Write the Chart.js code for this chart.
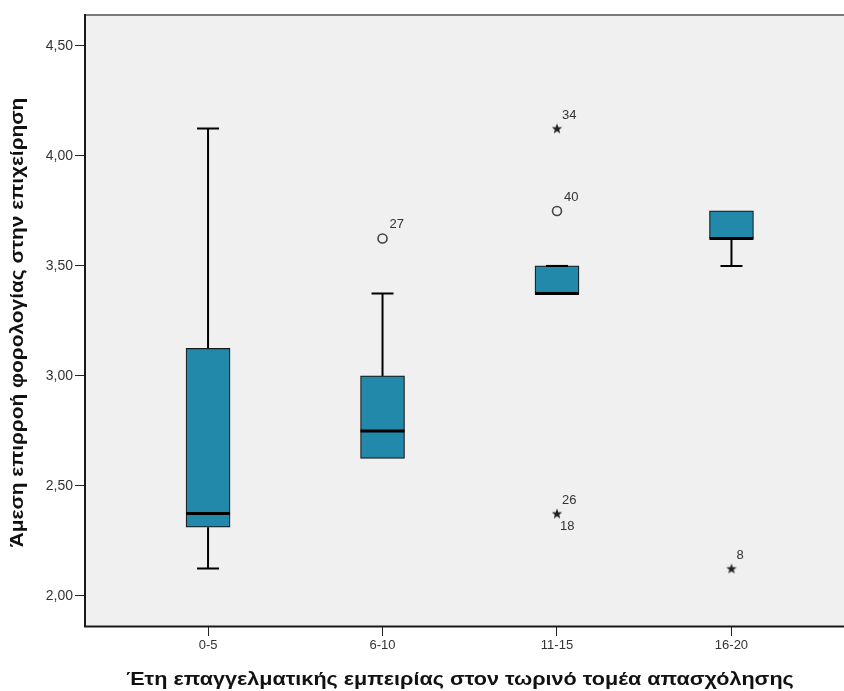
<!DOCTYPE html>
<html>
<head>
<meta charset="utf-8">
<script src="https://cdn.jsdelivr.net/npm/chart.js@4.4.1/dist/chart.umd.min.js"></script>
<style>
html,body{margin:0;padding:0;background:#fff;}
#wrap{width:844px;height:691px;position:relative;}
</style>
</head>
<body>
<div id="wrap"><canvas id="c" width="844" height="691"></canvas></div>
<script>
// ---- data ----
const categories = ['0-5', '6-10', '11-15', '16-20'];
const whiskerLow  = [2.125, 2.625, 3.375, 3.500];
const q1          = [2.3125, 2.625, 3.375, 3.625];
const median      = [2.375, 2.750, 3.375, 3.625];
const q3          = [3.125, 3.000, 3.500, 3.750];
const whiskerHigh = [4.125, 3.375, 3.500, 3.750];
// outliers (circles) and extremes (stars): category index, value, case label
const outlierCat   = [2, 3];
const outlierVal   = [3.625, 3.750];
const outlierLabel = ['27', '40'];
const extremeCat   = [3, 3, 4];
const extremeVal   = [4.125, 2.375, 2.125];
const extremeLabel = [['34'], ['26', '18'], ['8']];
const yTicks = [2.0, 2.5, 3.0, 3.5, 4.0, 4.5];
const xTitle = 'Έτη επαγγελματικής εμπειρίας στον τωρινό τομέα απασχόλησης';
const yTitle = 'Άμεση επιρροή φορολογίας στην επιχείρηση';

// star point image
function makeStar(){
  const s = 12, c = document.createElement('canvas');
  c.width = s; c.height = s;
  const g = c.getContext('2d');
  g.fillStyle = '#222';
  g.beginPath();
  const cx = s/2, cy = s/2 + 0.5, R = 5.5, r = 2.3;
  for (let i = 0; i < 10; i++){
    const a = -Math.PI/2 + i*Math.PI/5;
    const rr = i % 2 ? r : R;
    g.lineTo(cx + rr*Math.cos(a), cy + rr*Math.sin(a));
  }
  g.closePath(); g.fill();
  return c;
}
const starImg = makeStar();
const FONT = '"Liberation Sans", Arial, sans-serif';

const boxPlugin = {
  id: 'boxPlugin',
  beforeDraw(chart){
    const {ctx, chartArea:a} = chart;
    ctx.save();
    ctx.fillStyle = '#f0f0f0';
    ctx.fillRect(a.left, a.top, a.right - a.left, a.bottom - a.top);
    ctx.restore();
  },
  beforeDatasetsDraw(chart){
    const {ctx, scales:{x, y}} = chart;
    ctx.save();
    ctx.strokeStyle = '#000';
    ctx.lineWidth = 2;
    categories.forEach((c, i) => {
      const px = x.getPixelForValue(i + 1);
      const cap = 11;
      const yl = y.getPixelForValue(whiskerLow[i]), y1 = y.getPixelForValue(q1[i]);
      const yh = y.getPixelForValue(whiskerHigh[i]), y3 = y.getPixelForValue(q3[i]);
      ctx.beginPath();
      if (whiskerLow[i] < q1[i]) {
        ctx.moveTo(px, y1); ctx.lineTo(px, yl);
        ctx.moveTo(px - cap, yl); ctx.lineTo(px + cap, yl);
      }
      if (whiskerHigh[i] > q3[i]) {
        ctx.moveTo(px, y3); ctx.lineTo(px, yh);
        ctx.moveTo(px - cap, yh); ctx.lineTo(px + cap, yh);
      }
      ctx.stroke();
    });
    ctx.restore();
  },
  afterDatasetsDraw(chart){
    const {ctx, scales:{x, y}, chartArea:a} = chart;
    ctx.save();
    categories.forEach((c, i) => {
      const px = x.getPixelForValue(i + 1);
      const hw = 22, cap = 11;
      const ym = y.getPixelForValue(median[i]);
      ctx.strokeStyle = '#000';
      ctx.lineWidth = 3;
      ctx.beginPath();
      ctx.moveTo(px - hw, ym); ctx.lineTo(px + hw, ym);
      ctx.stroke();
      ctx.lineWidth = 2;
      ctx.beginPath();
      if (whiskerHigh[i] === q3[i] && i === 2) {
        const yh = y.getPixelForValue(whiskerHigh[i]);
        ctx.moveTo(px - cap, yh); ctx.lineTo(px + cap, yh);
      }
      ctx.stroke();
    });
    // case labels
    ctx.fillStyle = '#333';
    ctx.font = '13px ' + FONT;
    ctx.textAlign = 'left';
    ctx.textBaseline = 'middle';
    outlierCat.forEach((c, i) => {
      const px = x.getPixelForValue(c), py = y.getPixelForValue(outlierVal[i]);
      ctx.fillText(outlierLabel[i], px + 7, py - 14);
    });
    extremeCat.forEach((c, i) => {
      const px = x.getPixelForValue(c), py = y.getPixelForValue(extremeVal[i]);
      ctx.fillText(extremeLabel[i][0], px + 5, py - 13);
      if (extremeLabel[i][1]) ctx.fillText(extremeLabel[i][1], px + 3, py + 13);
    });
    // frame: left, top (grey), bottom; the right side runs off the image
    ctx.lineWidth = 2;
    ctx.strokeStyle = '#7a7a7a';
    ctx.beginPath();
    ctx.moveTo(a.left, a.top + 1); ctx.lineTo(a.right, a.top + 1);
    ctx.stroke();
    ctx.strokeStyle = '#1a1a1a';
    ctx.beginPath();
    ctx.moveTo(a.left + 1, a.top); ctx.lineTo(a.left + 1, a.bottom);
    ctx.moveTo(a.left, a.bottom - 0.5); ctx.lineTo(a.right, a.bottom - 0.5);
    ctx.stroke();
    // axis titles (stretched horizontally like the original)
    ctx.fillStyle = '#111';
    ctx.font = 'bold 18px ' + FONT;
    ctx.textAlign = 'center';
    ctx.textBaseline = 'middle';
    ctx.save();
    ctx.translate((a.left + a.right) / 2 - 4, 680);
    ctx.scale(1.2, 1);
    ctx.fillText(xTitle, 0, 0);
    ctx.restore();
    ctx.save();
    ctx.translate(18, (a.top + a.bottom) / 2 + 2);
    ctx.rotate(-Math.PI / 2);
    ctx.scale(1.16, 1);
    ctx.fillText(yTitle, 0, 0);
    ctx.restore();
    ctx.restore();
  }
};

new Chart(document.getElementById('c'), {
  type: 'bar',
  data: {
    datasets: [
      {
        type: 'bar',
        data: categories.map((c, i) => ({x: i + 1, y: [q1[i], q3[i]]})),
        backgroundColor: '#2389aa',
        borderColor: '#1a1a1a',
        borderWidth: 1.2,
        borderSkipped: false,
        barThickness: 44,
        order: 2
      },
      {
        type: 'scatter',
        data: outlierCat.map((c, i) => ({x: c, y: outlierVal[i]})),
        pointStyle: 'circle',
        pointRadius: 4.5,
        borderColor: '#444',
        borderWidth: 1.6,
        backgroundColor: 'rgba(0,0,0,0)',
        order: 1
      },
      {
        type: 'scatter',
        data: extremeCat.map((c, i) => ({x: c, y: extremeVal[i]})),
        pointStyle: starImg,
        order: 1
      }
    ]
  },
  plugins: [boxPlugin],
  options: {
    responsive: false,
    animation: false,
    events: [],
    layout: {autoPadding: false, padding: {top: 14, right: 0, left: 0, bottom: 0}},
    plugins: {legend: {display: false}, tooltip: {enabled: false}},
    scales: {
      x: {
        type: 'linear',
        offset: false,
        min: 0.289,
        max: 4.645,
        afterBuildTicks: s => { s.ticks = categories.map((c, i) => ({value: i + 1})); },
        afterFit: s => { s.height = 64; s.paddingRight = 0; s.paddingLeft = 0; },
        grid: {offset: false, drawOnChartArea: false, drawTicks: true, tickLength: 9, color: '#222', tickWidth: 1},
        border: {display: false},
        ticks: {
          callback: v => categories[v - 1],
          color: '#333',
          font: {family: FONT, size: 13},
          padding: 2,
          maxRotation: 0
        },
        title: {display: false}
      },
      y: {
        type: 'linear',
        min: 1.859,
        max: 4.645,
        afterBuildTicks: s => { s.ticks = yTicks.map(v => ({value: v})); },
        afterFit: s => { s.width = 84; },
        grid: {drawOnChartArea: false, drawTicks: true, tickLength: 9, color: '#222', tickWidth: 1},
        border: {display: false},
        ticks: {
          callback: v => v.toFixed(2).replace('.', ','),
          color: '#333',
          font: {family: FONT, size: 14},
          padding: 2
        },
        title: {display: false}
      }
    }
  }
});
</script>
</body>
</html>
